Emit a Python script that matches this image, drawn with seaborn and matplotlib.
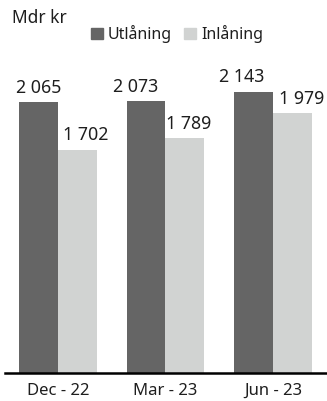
import matplotlib
matplotlib.use("Agg")
import matplotlib.pyplot as plt
import seaborn as sns
import pandas as pd
from matplotlib.patches import Patch

categories = ["Dec - 22", "Mar - 23", "Jun - 23"]
utlaning = [2065, 2073, 2143]
inlaning = [1702, 1789, 1979]
series_names = ["Utlåning", "Inlåning"]
unit_label = "Mdr kr"

df = pd.DataFrame({
    "period": categories * 2,
    "value": utlaning + inlaning,
    "serie": [series_names[0]] * 3 + [series_names[1]] * 3,
})

sns.set_theme(style="white")
plt.rcParams["font.family"] = ["Noto Sans", "DejaVu Sans"]
plt.rcParams["font.weight"] = "light"

colors = {"Utlåning": "#656565", "Inlåning": "#d1d3d2"}
txt = "#1e1e1e"

fig = plt.figure(figsize=(3.27, 4.01), dpi=100)
ax = fig.add_axes([5 / 327, 1 - 373 / 401, 1 - 5 / 327, (373 - 60) / 401])
sns.barplot(data=df, x="period", y="value", hue="serie", palette=colors,
            width=0.72, gap=0, ax=ax, legend=False, saturation=1, linewidth=0)
ax.set_xlim(-0.49, 2.5)
ax.set_ylim(0, 2386)
for s in ["top", "right", "left"]:
    ax.spines[s].set_visible(False)
ax.spines["bottom"].set_color("black")
ax.spines["bottom"].set_linewidth(1.8)
ax.set_yticks([])
ax.set_xlabel("")
ax.set_ylabel("")
ax.tick_params(axis="x", length=0, pad=7, labelsize=12, colors=txt)

# label offsets (points) to mimic the reference placement
x_offsets = [[0, -7.5, -8.5], [6.5, 2.8, 6.8]]
for i, cont in enumerate(ax.containers):
    for j, bar in enumerate(cont):
        v = bar.get_height()
        ax.annotate(f"{int(v):,}".replace(",", " "),
                    (bar.get_x() + bar.get_width() / 2, v),
                    xytext=(x_offsets[i][j], 4.0), textcoords="offset points",
                    ha="center", va="bottom", fontsize=12.8, color=txt)

fig.text(12 / 327, 1 - 18 / 401, unit_label, fontsize=12.5, va="center", ha="left", color=txt)

handles = [Patch(color=colors[n]) for n in series_names]
fig.legend(handles, series_names, loc="center", bbox_to_anchor=(177 / 327, 1 - 34 / 401),
           ncol=2, frameon=False, fontsize=11.5, handlelength=0.75, handleheight=0.75,
           handletextpad=0.3, columnspacing=0.8, borderaxespad=0, labelcolor=txt)

fig.savefig("out.png", dpi=100)
